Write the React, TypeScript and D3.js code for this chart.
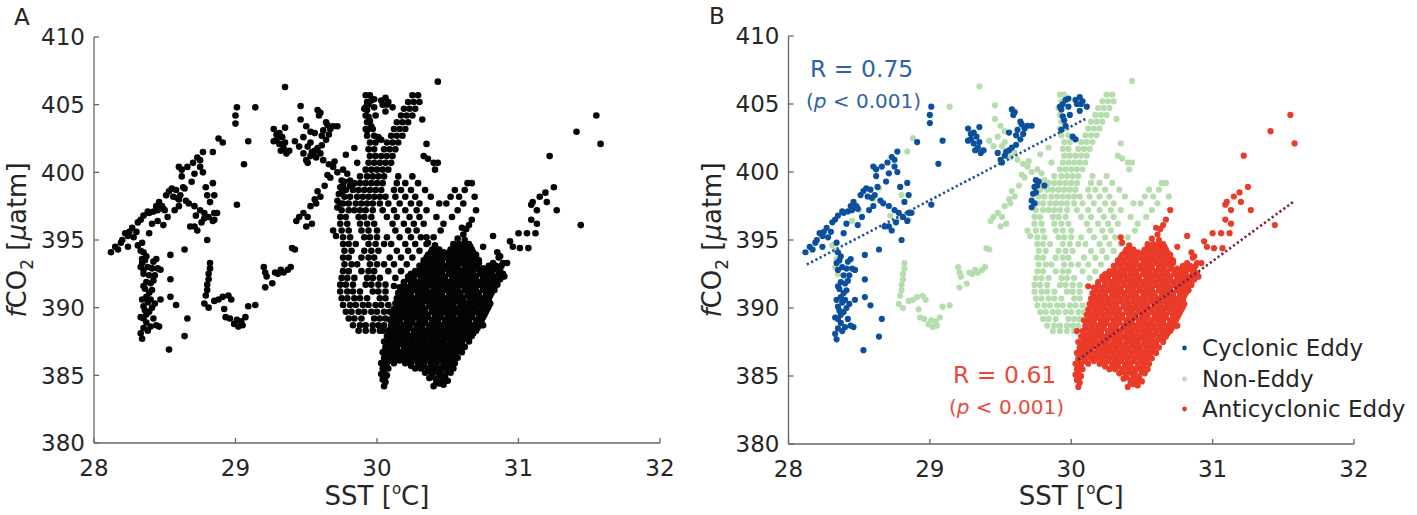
import React from 'react';
import * as d3 from 'd3';

type P = [number, number];
type Row = [number, number[]];

const xTicks = [28, 29, 30, 31, 32];
const yTicks = [380, 385, 390, 395, 400, 405, 410];
const legendLabels = ['Cyclonic Eddy', 'Non-Eddy', 'Anticyclonic Eddy'];

// Cyclonic eddy samples [SST, fCO2]
const cyclonic: P[] = [
  [28.12,394.1],[28.15,394.5],[28.17,394.3],[28.19,394.8],[28.22,395.5],[28.24,395.3],[28.25,395.6],[28.28,395.2],
  [28.31,396.3],[28.33,396.5],[28.35,396.8],[28.38,397.1],[28.39,397.0],[28.42,397.1],[28.44,397.5],[28.45,397.2],
  [28.48,397.5],[28.49,397.3],[28.51,398.3],[28.53,398.6],[28.55,398.8],[28.58,398.7],[28.59,398.1],[28.61,398.3],
  [28.60,400.4],[28.62,400.2],[28.66,400.4],[28.62,399.7],[28.69,399.3],[28.71,399.9],[28.75,400.4],[28.75,400.9],
  [28.77,401.5],[28.77,400.0],[28.65,397.9],[28.67,397.7],[28.71,397.5],[28.75,397.2],[28.78,397.0],[28.81,396.7],
  [28.85,397.0],[28.87,397.0],[28.84,396.4],[28.84,399.2],[28.85,398.3],[28.71,396.0],[28.73,395.7],[28.68,396.0],
  [28.57,397.2],[28.52,396.7],[28.49,396.1],[28.41,396.2],[28.39,395.5],[28.24,394.5],[28.80,395.0],[28.64,394.3],
  [28.20,395.0],[28.27,395.9],[28.30,395.6],[28.46,397.8],[28.56,398.2],[28.63,398.9],[28.70,400.7],[28.73,401.1],
  [28.79,398.9],[28.82,397.8],[28.76,396.3],[28.60,397.5],
  [28.34,394.8],[28.35,394.1],[28.37,393.8],[28.34,393.3],[28.38,393.0],[28.35,392.8],[28.41,392.9],[28.45,392.9],
  [28.47,392.8],[28.39,392.4],[28.37,391.9],[28.40,391.8],[28.42,392.0],[28.37,390.8],[28.38,390.4],[28.40,390.6],
  [28.35,390.1],[28.33,389.3],[28.35,389.2],[28.39,389.7],[28.37,388.9],[28.40,388.6],[28.33,388.1],[28.34,387.7],
  [28.44,388.7],[28.46,388.6],[28.54,390.8],[28.54,392.1],[28.58,390.2],[28.66,389.2],[28.64,387.9],[28.53,386.9],
  [28.47,390.6],[28.54,393.9],[28.36,391.4],[28.39,391.1],[28.42,393.4],[28.36,389.8],[28.41,390.0],[28.38,388.3],
  [28.36,393.5],[28.44,393.6],[28.43,392.4],[28.35,391.6],[28.41,391.3],[28.34,390.6],[28.43,390.3],[28.37,389.5],
  [28.42,389.2],[28.35,388.5],
  [29.01,404.8],[29.00,404.2],[29.00,403.6],[28.91,402.2],[29.09,402.3],[29.06,400.6],[29.01,397.6],
  [29.27,403.2],[29.29,402.8],[29.31,402.9],[29.33,402.6],[29.35,403.3],[29.29,402.4],[29.31,402.1],[29.32,401.6],
  [29.36,401.4],[29.38,401.6],[29.35,402.2],[29.27,402.3],[29.34,401.8],
  [29.48,401.4],[29.50,400.9],[29.53,401.2],[29.56,401.6],[29.58,401.8],[29.61,402.0],[29.64,402.4],[29.56,402.9],
  [29.59,404.2],[29.58,404.6],[29.60,404.4],[29.62,403.1],[29.65,403.5],[29.67,403.2],[29.69,403.4],[29.64,403.7],
  [29.61,402.7],[29.72,403.4],[29.66,402.8],[29.51,400.7],[29.54,401.5],
  [29.75,399.4],[29.74,398.9],[29.73,398.4],[29.72,397.9],[29.72,397.4],[29.74,397.7],[29.77,399.3],[29.75,398.5],
  [29.81,399.0],[29.76,399.0],
  [29.94,405.0],[29.96,405.3],[29.93,404.6],[29.94,404.1],[29.98,404.8],[29.99,404.2],[30.03,405.3],[30.06,405.5],
  [30.07,405.0],[30.11,404.8],[30.06,404.5],[29.98,405.4],[29.93,403.1],[29.96,403.4],[30.03,402.4],[29.95,403.8],
  [29.92,404.8],[30.08,405.2],[30.04,405.0],[30.01,402.6]
];

// Non-eddy: scattered samples [SST, fCO2]
const nonEddySparse: P[] = [
  [28.33,394.2],[28.34,393.6],[28.33,393.0],[28.35,392.5],[28.31,394.6],[28.45,396.4],[28.50,397.2],[28.64,398.8],
  [28.72,396.8],[28.78,396.6],[28.85,396.5],[28.80,398.3],[28.60,398.0],[28.88,402.5],[28.84,401.5],
  [29.14,404.8],[29.35,406.3],[29.46,404.9],
  [28.82,393.3],[28.82,392.9],[28.81,392.5],[28.81,392.1],[28.80,391.7],[28.80,391.3],[28.79,390.9],[28.78,390.3],
  [28.81,390.0],[28.85,390.5],[28.88,390.6],[28.91,390.8],[28.95,390.9],[28.97,390.6],[28.92,389.9],[28.93,389.3],
  [28.96,389.2],[28.99,388.8],[29.02,388.6],[29.04,389.0],[29.05,388.7],[29.07,389.3],[29.09,390.1],[29.14,390.2],
  [29.01,389.1],
  [29.20,393.0],[29.21,392.6],[29.22,392.3],[29.21,391.5],[29.26,391.8],[29.28,392.6],[29.32,392.8],[29.34,392.6],
  [29.37,392.8],[29.39,393.0],[29.40,394.4],[29.30,392.5],
  [29.42,402.3],[29.45,401.9],[29.48,402.6],[29.51,401.9],[29.53,402.2],[29.55,401.4],[29.57,401.1],[29.60,401.4],
  [29.62,400.9],[29.66,400.6],[29.69,400.4],[29.72,400.0],[29.76,400.2],[29.79,399.9],[29.81,399.4],[29.83,399.1],
  [29.78,401.3],[29.84,401.8],[29.86,400.7],[29.60,398.2],[29.57,397.7],[29.53,397.5],[29.51,396.7],[29.48,397.0],
  [29.45,396.7],[29.54,396.2],[29.50,396.0],[29.58,398.6],[29.63,399.0],[29.67,399.6],[29.69,395.7],[29.71,395.3],
  [29.42,394.3],[29.46,403.9],[29.50,403.4],[29.53,403.0],[29.70,400.8],[29.65,399.8],[29.43,396.4],[29.56,398.0],
  [30.43,406.7],[30.35,402.1],[30.32,403.9],[30.36,401.0]
];

// Non-eddy: dense central cloud, rows of [fCO2, SST values]
const nonEddyCoreRows: Row[] = [
  [405.7, [29.92, 29.95, 30.25, 30.29]],
  [405.2, [29.93, 30.22, 30.26, 30.30]],
  [404.7, [29.91, 30.19, 30.23, 30.27]],
  [404.2, [29.92, 30.17, 30.21, 30.25]],
  [403.7, [29.93, 30.14, 30.18, 30.22]],
  [403.2, [29.92, 29.97, 30.12, 30.16, 30.20]],
  [402.7, [29.93, 29.98, 30.10, 30.14, 30.18]],
  [402.2, [29.95, 29.99, 30.07, 30.11, 30.15]],
  [401.7, [29.94, 29.98, 30.05, 30.09, 30.13]],
  [401.2, [29.95, 29.99, 30.03, 30.07, 30.11, 30.33]],
  [400.7, [29.94, 29.98, 30.02, 30.06, 30.10, 30.40, 30.43]],
  [400.2, [29.92, 29.96, 30.00, 30.04, 30.08, 30.41]],
  [399.7, [29.88, 29.93, 29.97, 30.01, 30.05, 30.15, 30.25]],
  [399.2, [29.84, 29.88, 29.92, 29.96, 30.00, 30.04, 30.14, 30.20, 30.29, 30.64, 30.67]],
  [398.7, [29.78, 29.83, 29.87, 29.91, 29.95, 29.99, 30.03, 30.12, 30.17, 30.24, 30.34, 30.55, 30.62]],
  [398.2, [29.77, 29.81, 29.86, 29.90, 29.94, 29.98, 30.02, 30.06, 30.13, 30.20, 30.27, 30.38, 30.52, 30.58, 30.69]],
  [397.7, [29.76, 29.80, 29.85, 29.89, 29.93, 29.97, 30.02, 30.08, 30.16, 30.24, 30.30, 30.44, 30.49, 30.61]],
  [397.2, [29.75, 29.80, 29.84, 29.88, 29.92, 29.97, 30.04, 30.12, 30.20, 30.28, 30.35, 30.57]],
  [396.7, [29.74, 29.78, 29.87, 29.91, 29.96, 30.07, 30.14, 30.23, 30.30, 30.42, 30.53]],
  [396.2, [29.74, 29.79, 29.88, 29.93, 29.98, 30.11, 30.19, 30.26, 30.33, 30.47]],
  [395.7, [29.75, 29.80, 29.89, 29.94, 30.00, 30.13, 30.22, 30.28, 30.45]],
  [395.2, [29.76, 29.81, 29.91, 29.95, 30.00, 30.07, 30.16, 30.24, 30.31, 30.40]],
  [394.7, [29.76, 29.80, 29.85, 29.94, 29.99, 30.05, 30.10, 30.20, 30.27, 30.35]],
  [394.2, [29.77, 29.82, 29.91, 29.96, 30.01, 30.14, 30.22, 30.30]],
  [393.7, [29.76, 29.80, 29.89, 29.94, 29.98, 30.09, 30.17, 30.25]],
  [393.2, [29.77, 29.82, 29.86, 29.95, 30.00, 30.05, 30.12, 30.21]],
  [392.7, [29.76, 29.80, 29.89, 29.94, 29.98, 30.08, 30.17]],
  [392.2, [29.75, 29.79, 29.84, 29.93, 29.97, 30.02, 30.13]],
  [391.7, [29.74, 29.78, 29.83, 29.92, 29.96, 30.01, 30.06]],
  [391.2, [29.74, 29.79, 29.83, 29.88, 29.97, 30.01, 30.06]],
  [390.7, [29.75, 29.79, 29.84, 29.88, 29.93, 30.02, 30.06]],
  [390.2, [29.76, 29.81, 29.85, 29.90, 29.94, 29.99, 30.03, 30.08]],
  [389.7, [29.78, 29.82, 29.87, 29.91, 29.96, 30.00, 30.05, 30.09]],
  [389.2, [29.80, 29.84, 29.89, 29.98, 30.02, 30.06]],
  [388.7, [29.83, 29.88, 29.92, 29.97, 30.01, 30.05]],
  [388.3, [29.87, 29.92, 29.97, 30.02]]
];

// Anticyclonic eddy samples [SST, fCO2]
const anticyclonicSparse: P[] = [
  [30.05,384.2],[30.40,384.2],[30.44,384.4],[30.47,384.3],
  [30.04,384.7],[30.37,384.8],[30.42,384.7],[30.46,384.8],[30.50,384.6],
  [30.03,385.1],[30.07,385.0],[30.34,385.2],[30.39,385.1],[30.43,385.2],[30.48,385.0],[30.52,385.2],
  [30.35,395.2],[30.57,395.1],[30.61,395.4],[30.63,395.8],[30.60,395.9],[30.65,396.1],[30.67,396.5],[30.70,397.2],[30.62,395.0],
  [30.82,395.3],[30.85,394.1],[30.87,393.8],[30.94,394.9],[30.96,394.5],[31.00,395.5],[31.01,394.4],[31.06,395.5],
  [31.07,394.4],[31.12,395.5],[31.09,396.5],[31.13,396.2],[31.09,397.6],[31.10,397.8],[31.13,397.2],[31.15,398.2],
  [31.19,398.5],[31.20,397.8],[31.25,398.9],[31.27,397.2],[31.22,401.2],[31.41,403.0],[31.55,404.2],[31.58,402.1],
  [31.44,396.1],[30.79,391.8],[30.82,391.3],[30.79,390.6],[30.74,388.7],[30.83,392.9],[30.87,392.8],[30.36,394.8],
  [30.41,394.6],[30.75,394.5],[30.92,393.3],[30.86,393.7]
];

// Anticyclonic eddy: dense cloud, rows of [fCO2, SST values]
const anticyclonicCoreRows: Row[] = [
  [384.5, [30.06, 30.42, 30.46]],
  [384.9, [30.06, 30.39, 30.44, 30.48]],
  [385.3, [30.05, 30.36, 30.41, 30.45, 30.50]],
  [385.5, [30.04, 30.08, 30.27, 30.31, 30.36, 30.40, 30.45, 30.49, 30.54]],
  [385.7, [30.06, 30.24, 30.29, 30.33, 30.38, 30.42, 30.47, 30.51]],
  [385.9, [30.03, 30.07, 30.12, 30.20, 30.24, 30.29, 30.33, 30.38, 30.42, 30.47, 30.51, 30.55]],
  [386.1, [30.05, 30.10, 30.16, 30.22, 30.26, 30.31, 30.35, 30.40, 30.44, 30.49, 30.53]],
  [386.3, [30.05, 30.09, 30.14, 30.18, 30.22, 30.27, 30.31, 30.36, 30.40, 30.45, 30.49, 30.53, 30.57]],
  [386.5, [30.06, 30.11, 30.16, 30.20, 30.24, 30.29, 30.33, 30.38, 30.42, 30.47, 30.51, 30.55]],
  [386.7, [30.04, 30.08, 30.12, 30.16, 30.21, 30.25, 30.29, 30.34, 30.38, 30.43, 30.47, 30.51, 30.56, 30.60]],
  [386.9, [30.06, 30.10, 30.14, 30.19, 30.23, 30.27, 30.31, 30.36, 30.40, 30.45, 30.49, 30.53, 30.58]],
  [387.1, [30.06, 30.10, 30.14, 30.19, 30.23, 30.27, 30.32, 30.36, 30.41, 30.45, 30.49, 30.54, 30.58, 30.62]],
  [387.3, [30.08, 30.12, 30.16, 30.21, 30.25, 30.29, 30.34, 30.38, 30.43, 30.47, 30.51, 30.56, 30.60]],
  [387.5, [30.05, 30.09, 30.13, 30.17, 30.21, 30.25, 30.30, 30.34, 30.39, 30.43, 30.47, 30.52, 30.56, 30.60, 30.65]],
  [387.7, [30.09, 30.13, 30.17, 30.22, 30.26, 30.31, 30.35, 30.40, 30.44, 30.48, 30.53, 30.57, 30.62, 30.65]],
  [387.9, [30.07, 30.11, 30.15, 30.19, 30.23, 30.28, 30.32, 30.37, 30.41, 30.45, 30.50, 30.54, 30.58, 30.63, 30.67]],
  [388.1, [30.09, 30.13, 30.17, 30.21, 30.26, 30.30, 30.34, 30.39, 30.43, 30.47, 30.52, 30.56, 30.60, 30.65, 30.68]],
  [388.3, [30.04, 30.08, 30.13, 30.17, 30.21, 30.26, 30.30, 30.35, 30.39, 30.43, 30.48, 30.52, 30.56, 30.61, 30.65, 30.70]],
  [388.5, [30.10, 30.15, 30.19, 30.23, 30.28, 30.32, 30.37, 30.41, 30.45, 30.50, 30.54, 30.58, 30.63, 30.67, 30.71]],
  [388.7, [30.10, 30.14, 30.19, 30.23, 30.28, 30.32, 30.37, 30.41, 30.46, 30.50, 30.54, 30.59, 30.63, 30.68, 30.72, 30.75]],
  [388.9, [30.12, 30.16, 30.21, 30.25, 30.30, 30.34, 30.39, 30.43, 30.48, 30.52, 30.56, 30.61, 30.65, 30.70, 30.73]],
  [389.1, [30.09, 30.12, 30.16, 30.21, 30.25, 30.30, 30.34, 30.39, 30.43, 30.48, 30.52, 30.57, 30.61, 30.65, 30.70, 30.74]],
  [389.3, [30.14, 30.18, 30.23, 30.27, 30.32, 30.36, 30.41, 30.45, 30.50, 30.54, 30.59, 30.63, 30.67, 30.72, 30.75]],
  [389.5, [30.11, 30.14, 30.19, 30.23, 30.28, 30.32, 30.36, 30.41, 30.45, 30.50, 30.54, 30.59, 30.63, 30.67, 30.72, 30.76]],
  [389.7, [30.13, 30.17, 30.21, 30.26, 30.30, 30.34, 30.39, 30.43, 30.48, 30.52, 30.57, 30.61, 30.65, 30.70, 30.74, 30.77]],
  [389.9, [30.12, 30.17, 30.21, 30.25, 30.30, 30.34, 30.39, 30.43, 30.47, 30.52, 30.56, 30.61, 30.65, 30.69, 30.74, 30.78]],
  [390.1, [30.15, 30.19, 30.23, 30.28, 30.32, 30.37, 30.41, 30.45, 30.50, 30.54, 30.59, 30.63, 30.67, 30.72, 30.76, 30.79]],
  [390.3, [30.13, 30.15, 30.19, 30.24, 30.28, 30.32, 30.37, 30.41, 30.46, 30.50, 30.54, 30.59, 30.63, 30.68, 30.72, 30.76, 30.80]],
  [390.5, [30.17, 30.21, 30.26, 30.30, 30.35, 30.39, 30.44, 30.48, 30.52, 30.57, 30.61, 30.66, 30.70, 30.74, 30.78]],
  [390.7, [30.14, 30.18, 30.22, 30.26, 30.31, 30.35, 30.40, 30.44, 30.48, 30.53, 30.57, 30.61, 30.66, 30.70, 30.74, 30.79]],
  [390.9, [30.16, 30.20, 30.24, 30.29, 30.33, 30.38, 30.42, 30.46, 30.51, 30.55, 30.59, 30.64, 30.68, 30.72, 30.77, 30.80]],
  [391.1, [30.15, 30.20, 30.24, 30.29, 30.33, 30.37, 30.42, 30.46, 30.51, 30.55, 30.59, 30.64, 30.68, 30.72, 30.77, 30.81]],
  [391.3, [30.18, 30.22, 30.27, 30.31, 30.35, 30.40, 30.44, 30.49, 30.53, 30.57, 30.62, 30.66, 30.70, 30.75, 30.79, 30.83]],
  [391.5, [30.16, 30.22, 30.26, 30.31, 30.35, 30.40, 30.44, 30.48, 30.53, 30.57, 30.62, 30.66, 30.70, 30.75, 30.79]],
  [391.6, [30.12, 30.83]],
  [391.7, [30.19, 30.24, 30.29, 30.33, 30.38, 30.42, 30.46, 30.51, 30.55, 30.60, 30.64, 30.68, 30.73, 30.77, 30.81, 30.85]],
  [391.9, [30.19, 30.24, 30.28, 30.33, 30.37, 30.42, 30.46, 30.50, 30.55, 30.59, 30.64, 30.68, 30.72, 30.77, 30.81, 30.85]],
  [392.1, [30.22, 30.26, 30.31, 30.35, 30.40, 30.44, 30.48, 30.53, 30.57, 30.62, 30.66, 30.70, 30.75, 30.79, 30.83, 30.87]],
  [392.3, [30.22, 30.26, 30.31, 30.35, 30.39, 30.44, 30.48, 30.53, 30.57, 30.61, 30.66, 30.70, 30.75, 30.79, 30.83, 30.88, 30.90]],
  [392.5, [30.24, 30.29, 30.33, 30.37, 30.42, 30.46, 30.51, 30.55, 30.59, 30.64, 30.68, 30.73, 30.77, 30.81, 30.86, 30.89]],
  [392.7, [30.27, 30.29, 30.33, 30.38, 30.42, 30.46, 30.51, 30.55, 30.60, 30.64, 30.68, 30.73, 30.77, 30.81, 30.86]],
  [392.9, [30.31, 30.36, 30.40, 30.44, 30.49, 30.53, 30.57, 30.62, 30.66, 30.71, 30.75, 30.79, 30.84]],
  [393.1, [30.30, 30.35, 30.40, 30.44, 30.48, 30.53, 30.57, 30.62, 30.66, 30.70, 30.79, 30.84, 30.88]],
  [393.3, [30.33, 30.38, 30.42, 30.46, 30.51, 30.55, 30.60, 30.64, 30.68, 30.72, 30.82, 30.89]],
  [393.5, [30.33, 30.37, 30.42, 30.46, 30.51, 30.55, 30.59, 30.64, 30.68, 30.72]],
  [393.7, [30.35, 30.40, 30.44, 30.49, 30.53, 30.57, 30.62, 30.66, 30.70]],
  [393.9, [30.36, 30.40, 30.45, 30.49, 30.53, 30.58, 30.62, 30.66, 30.70]],
  [394.1, [30.38, 30.42, 30.47, 30.51, 30.55, 30.60, 30.64, 30.68]],
  [394.3, [30.39, 30.44, 30.52, 30.56, 30.60, 30.64, 30.67]],
  [394.5, [30.41, 30.54, 30.58, 30.62, 30.66]],
  [394.7, [30.54, 30.58, 30.62, 30.65]]
];

// Linear fits drawn in panel B [SST, fCO2] end points
const cyclonicFit: P[] = [[28.13, 393.2], [30.1, 403.9]];
const anticyclonicFit: P[] = [[30.05, 386.2], [31.57, 397.8]];

const fromRows = (rows: Row[]): P[] => rows.flatMap(([y, xs]) => xs.map((x) => [x, y] as P));
const nonEddy: P[] = [...nonEddySparse, ...fromRows(nonEddyCoreRows)];
const anticyclonic: P[] = [...fromRows(anticyclonicCoreRows), ...anticyclonicSparse];

const FONT = "'DejaVu Sans', Verdana, sans-serif";
const AXIS = '#666666';
const TXT = '#262626';
const BLUE = '#0c4f9c';
const GREEN = '#b6ddae';
const RED = '#ea3a28';

type Scale = d3.ScaleLinear<number, number>;

function Axes({ x, y }: { x: Scale; y: Scale }) {
  const [x0, x1] = x.range();
  const [y0, y1] = y.range();
  return (
    <g>
      <line x1={x0} x2={x0} y1={y0} y2={y1} stroke={AXIS} strokeWidth={1.3} />
      <line x1={x0} x2={x1} y1={y0} y2={y0} stroke={AXIS} strokeWidth={1.3} />
      {yTicks.map((t) => (
        <g key={'y' + t}>
          <line x1={x0} x2={x0 + 5} y1={y(t)} y2={y(t)} stroke={AXIS} strokeWidth={1.3} />
          <text x={x0 - 9} y={y(t)} dy="0.36em" textAnchor="end" fontSize={23} fill={TXT} fontFamily={FONT}>
            {t}
          </text>
        </g>
      ))}
      {xTicks.map((t) => (
        <g key={'x' + t}>
          <line x1={x(t)} x2={x(t)} y1={y0} y2={y0 - 5} stroke={AXIS} strokeWidth={1.3} />
          <text x={x(t)} y={y0 + 32.5} textAnchor="middle" fontSize={23} fill={TXT} fontFamily={FONT}>
            {t}
          </text>
        </g>
      ))}
      <text x={(x0 + x1) / 2} y={505} textAnchor="middle" fontSize={26} fill={TXT} fontFamily={FONT}>
        SST [<tspan fontSize={15} dy={-11}>o</tspan><tspan dy={11}>C]</tspan>
      </text>
      <text
        transform={`translate(${x0 - 68},${(y0 + y1) / 2}) rotate(-90)`}
        textAnchor="middle"
        fontSize={26}
        fill={TXT}
        fontFamily={FONT}
      >
        <tspan fontStyle="italic">f</tspan>CO<tspan fontSize={17} dy={7}>2</tspan>
        <tspan dy={-7}> [</tspan><tspan fontStyle="italic">μ</tspan>atm]
      </text>
    </g>
  );
}

export default function App() {
  const xA = d3.scaleLinear().domain([28, 32]).range([94, 660]);
  const yA = d3.scaleLinear().domain([380, 410]).range([443, 37]);
  const xB = d3.scaleLinear().domain([28, 32]).range([788.5, 1354]);
  const yB = d3.scaleLinear().domain([380, 410]).range([444, 36]);
  const all = [...cyclonic, ...nonEddy, ...anticyclonic];
  const lineB = d3
    .line<P>()
    .x((d) => xB(d[0]))
    .y((d) => yB(d[1]));
  const groups: { data: P[]; color: string }[] = [
    { data: nonEddy, color: GREEN },
    { data: cyclonic, color: BLUE },
    { data: anticyclonic, color: RED },
  ];
  const legendColors = [BLUE, GREEN, RED];
  const legendY = [348, 379, 409];
  return (
    <svg
      width={1417}
      height={515}
      style={{ position: 'absolute', left: 0, top: 0, background: '#fff' }}
      fontFamily={FONT}
    >
      <rect width={1417} height={515} fill="#fff" />
      {/* Panel A */}
      <text x={14} y={25} fontSize={23} fill={TXT}>A</text>
      <Axes x={xA} y={yA} />
      <g>
        {all.map((d, i) => (
          <circle key={i} cx={xA(d[0])} cy={yA(d[1])} r={3.3} fill="#050505" />
        ))}
      </g>
      {/* Panel B */}
      <text x={709} y={24} fontSize={23} fill={TXT}>B</text>
      <Axes x={xB} y={yB} />
      {groups.map((g, gi) => (
        <g key={gi}>
          {g.data.map((d, i) => (
            <circle key={i} cx={xB(d[0])} cy={yB(d[1])} r={3.1} fill={g.color} />
          ))}
        </g>
      ))}
      <path d={lineB(cyclonicFit) || ''} stroke="#1a4f96" strokeWidth={2.6} strokeDasharray="2.2 2.6" fill="none" />
      <path d={lineB(anticyclonicFit) || ''} stroke="#7a1f40" strokeWidth={2.6} strokeDasharray="2.2 2.6" fill="none" />
      <text x={810} y={77} fontSize={23.5} fill="#2a64a6">R = 0.75</text>
      <text x={806} y={108} fontSize={20} fill="#2a64a6">
        (<tspan fontStyle="italic">p</tspan> &lt; 0.001)
      </text>
      <text x={953} y={383} fontSize={23.5} fill="#e8493a">R = 0.61</text>
      <text x={949} y={414} fontSize={20} fill="#e8493a">
        (<tspan fontStyle="italic">p</tspan> &lt; 0.001)
      </text>
      {legendLabels.map((l, i) => (
        <g key={l}>
          <circle cx={1184.5} cy={legendY[i]} r={2.4} fill={legendColors[i]} />
          <text x={1202} y={legendY[i]} dy="0.36em" fontSize={23} fill={TXT}>
            {l}
          </text>
        </g>
      ))}
    </svg>
  );
}
